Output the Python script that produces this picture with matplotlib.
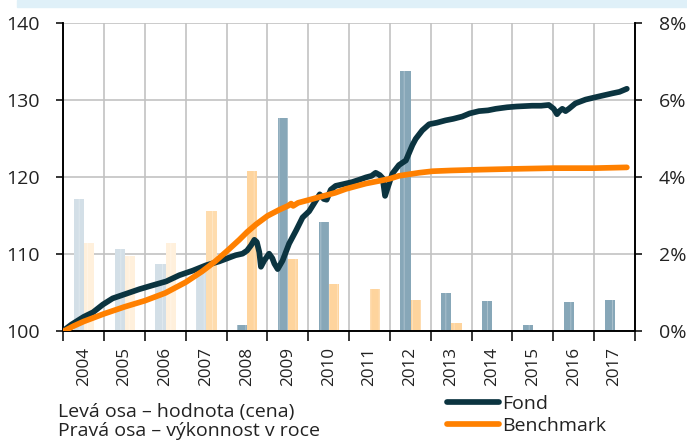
#!/usr/bin/env python3
"""Fond vs benchmark: value line (left axis) and yearly performance bars (right axis)."""

import matplotlib
matplotlib.use("Agg")
import matplotlib.pyplot as plt
from matplotlib.lines import Line2D
from matplotlib.patches import Rectangle
from matplotlib.ticker import FixedLocator, NullFormatter

plt.rcParams["font.family"] = ["Open Sans", "DejaVu Sans"]
plt.rcParams["hatch.linewidth"] = 0.6

# --- data -----------------------------------------------------------------
years = [2004, 2005, 2006, 2007, 2008, 2009, 2010,
         2011, 2012, 2013, 2014, 2015, 2016, 2017]
year_labels = [str(y) for y in years]
pct_ticks = [0, 2, 4, 6, 8]
pct_labels = ["0%", "2%", "4%", "6%", "8%"]
val_ticks = [100, 110, 120, 130, 140]

# yearly performance in % (right axis)
fund_perf = [3.43, 2.15, 1.76, 1.54, 0.18, 5.53, 2.84,
             0.0, 6.76, 1.01, 0.80, 0.16, 0.76, 0.81]
bench_perf = [2.29, 1.95, 2.31, 3.14, 4.16, 1.88, 1.22,
              1.10, 0.83, 0.21, 0.05, 0.03, 0.03, 0.02]

# value (price) time series, left axis
fund_t = [2004.00, 2004.20, 2004.50, 2004.73, 2004.97, 2005.21, 2005.54,
          2005.87, 2006.19, 2006.52, 2006.84, 2007.17, 2007.50, 2007.82,
          2008.07, 2008.22, 2008.39, 2008.50, 2008.60, 2008.68, 2008.74,
          2008.80, 2008.84, 2008.92, 2009.04, 2009.12, 2009.17, 2009.25,
          2009.37, 2009.53, 2009.70, 2009.86, 2010.02, 2010.15, 2010.28,
          2010.38, 2010.45, 2010.55, 2010.67, 2010.84, 2011.08, 2011.25,
          2011.41, 2011.55, 2011.65, 2011.75, 2011.82, 2011.88, 2011.94,
          2012.06, 2012.22, 2012.39, 2012.55, 2012.63, 2012.79, 2012.96,
          2013.15, 2013.36, 2013.55, 2013.77, 2013.95, 2014.18, 2014.40,
          2014.59, 2014.87, 2015.10, 2015.48, 2015.70, 2015.89, 2016.01,
          2016.09, 2016.15, 2016.22, 2016.30, 2016.38, 2016.54, 2016.79,
          2017.11, 2017.44, 2017.62, 2017.80]
fund_val = [100.1, 100.9, 101.9, 102.5, 103.5, 104.3, 104.9,
            105.5, 106.0, 106.5, 107.3, 107.9, 108.6, 109.1,
            109.6, 109.9, 110.1, 110.5, 111.2, 111.9, 111.6,
            110.3, 108.4, 109.2, 110.1, 109.5, 108.8, 108.1,
            109.2, 111.4, 113.1, 114.8, 115.6, 116.7, 117.8,
            117.2, 117.1, 118.4, 118.9, 119.1, 119.4, 119.7,
            120.0, 120.2, 120.6, 120.3, 119.9, 117.6, 118.6,
            120.5, 121.6, 122.2, 124.2, 125.0, 126.1, 126.9,
            127.1, 127.4, 127.6, 127.9, 128.3, 128.6, 128.7,
            128.9, 129.1, 129.2, 129.3, 129.3, 129.4, 128.9,
            128.2, 128.6, 128.9, 128.6, 128.9, 129.6, 130.1,
            130.5, 130.9, 131.1, 131.5]

bench_t = [2004.00, 2004.25, 2004.50, 2004.75, 2005.00, 2005.50, 2006.00,
           2006.50, 2007.00, 2007.40, 2007.72, 2008.00, 2008.31, 2008.50,
           2008.72, 2009.00, 2009.29, 2009.50, 2009.58, 2009.63, 2009.75,
           2010.10, 2010.66, 2010.92, 2011.41, 2011.98, 2012.22, 2012.71,
           2013.04, 2013.50, 2014.18, 2015.00, 2016.00, 2017.00, 2017.80]
bench_val = [100.0, 100.7, 101.3, 101.8, 102.3, 103.2, 104.0,
             105.0, 106.4, 107.8, 109.1, 110.4, 111.9, 112.9,
             113.9, 115.0, 115.8, 116.3, 116.6, 116.3, 116.7,
             117.2, 118.0, 118.5, 119.2, 119.8, 120.2, 120.6,
             120.8, 120.9, 121.0, 121.1, 121.2, 121.2, 121.3]

# --- styles ---------------------------------------------------------------
FUND_LINE = "#0b3440"
BENCH_LINE = "#ff8000"
fund_bar_colors = ["#d3dfe7"] * 4 + ["#87a7b8"] * 10
bench_bar_colors = ["#fff0dc"] * 3 + ["#fedcae"] + ["#fed49d"] * 10
GRID = "#c2c2c2"
TXT = "#222222"
LW = 4.1

fig = plt.figure(figsize=(6.87, 4.41), dpi=100)
ax = fig.add_axes([0.0921, 0.2483, 0.8322, 0.6989])   # bars, right scale
axl = ax.twinx()                                       # lines, left scale

# banner strip at the top
fig.patches.append(Rectangle((17 / 687, 1 - 7 / 441), 1, 7 / 441,
                             transform=fig.transFigure, color="#dff0f8",
                             zorder=0))

ax.set_xlim(2004, 2018)
ax.set_ylim(0, 8)

# bars
bw = 0.25
centers = [y + 0.5 for y in years]
ax.bar([c - 0.12 for c in centers], fund_perf, width=bw,
       color=fund_bar_colors, edgecolor=(1, 1, 1, 0.35), linewidth=0,
       hatch="||", zorder=2)
ax.bar([c + 0.13 for c in centers], bench_perf, width=bw,
       color=bench_bar_colors, edgecolor=(1, 1, 1, 0.35), linewidth=0,
       hatch="||", zorder=2)

# x ticks: boundaries as ticks, labels centred in categories
ax.xaxis.set_major_locator(FixedLocator(years + [2018]))
ax.xaxis.set_major_formatter(NullFormatter())
ax.xaxis.set_minor_locator(FixedLocator(centers))
ax.set_xticklabels(year_labels, minor=True, rotation=90, fontsize=12.3,
                   color=TXT)
ax.tick_params(axis="x", which="major", direction="out", length=7,
               width=1.1, color="black")
ax.tick_params(axis="x", which="minor", length=0, pad=11)

# right axis (%)
ax.yaxis.tick_right()
ax.set_yticks(pct_ticks)
ax.set_yticklabels(pct_labels, fontsize=14, color=TXT)
ax.tick_params(axis="y", direction="out", length=5, width=1.1, pad=12)

# lines (left scale)
axl.plot(fund_t, fund_val, color=FUND_LINE, linewidth=LW,
         solid_capstyle="round", solid_joinstyle="round", zorder=3)
axl.plot(bench_t, bench_val, color=BENCH_LINE, linewidth=LW,
         solid_capstyle="round", solid_joinstyle="round", zorder=4)
axl.set_ylim(100, 140)
axl.set_xlim(2004, 2018)
axl.yaxis.tick_left()
axl.set_yticks(val_ticks)
axl.set_yticklabels([str(v) for v in val_ticks], fontsize=14, color=TXT)
axl.tick_params(axis="y", direction="out", length=5, width=1.1, pad=12)

# grid lines under the bars (category borders + value levels)
ax.set_axisbelow(True)
ax.grid(True, which="major", axis="both", color=GRID, linewidth=1.2)

for a in (ax, axl):
    a.spines["top"].set_visible(False)
    for s in ("left", "right", "bottom"):
        a.spines[s].set_linewidth(1.2)
        a.spines[s].set_color("black")

# legend / axis notes
fig.text(58 / 687, 1 - 417 / 441, "Levá osa – hodnota (cena)",
         fontsize=14, color=TXT, va="baseline")
fig.text(58 / 687, 1 - 436.5 / 441, "Pravá osa – výkonnost v roce",
         fontsize=14, color=TXT, va="baseline")
for ypx, col, label, base in ((401.7, FUND_LINE, "Fond", 409),
                              (424.3, BENCH_LINE, "Benchmark", 431)):
    y = 1 - ypx / 441
    fig.lines.append(Line2D([447 / 687, 499 / 687], [y, y], color=col,
                            linewidth=LW, solid_capstyle="round",
                            transform=fig.transFigure))
    fig.text(502 / 687, 1 - base / 441, label, fontsize=14,
             color=TXT, va="baseline")

fig.savefig("out.png", dpi=100)
